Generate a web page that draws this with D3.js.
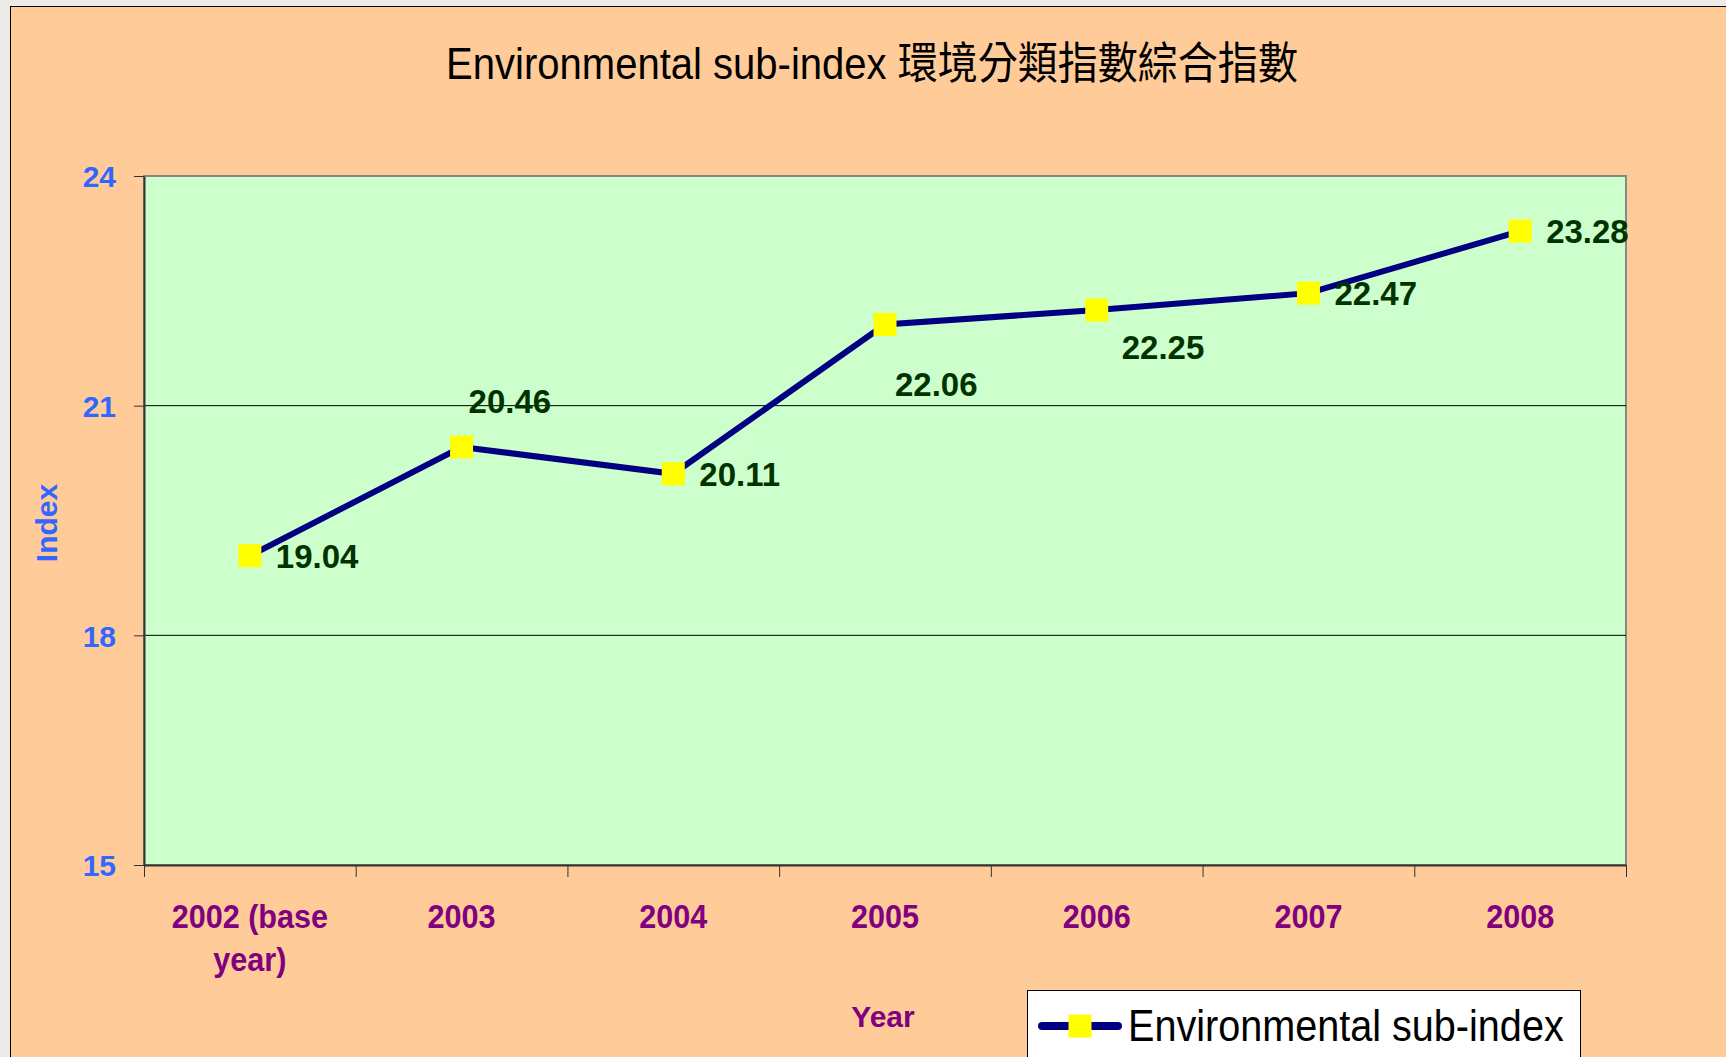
<!DOCTYPE html>
<html>
<head>
<meta charset="utf-8">
<script src="https://cdn.jsdelivr.net/npm/d3@7"></script>
<style>
  html, body { margin: 0; padding: 0; background: #ecebe8; }
  text { font-family: "Liberation Sans", Arial, "Noto Sans CJK TC", sans-serif; }
</style>
</head>
<body>
<div id="chart"></div>
<script>
// data
var years = ["2002", "2003", "2004", "2005", "2006", "2007", "2008"]
var yearLabels = [["2002 (base", "year)"], ["2003"], ["2004"], ["2005"], ["2006"], ["2007"], ["2008"]]
var envIndex = [19.04, 20.46, 20.11, 22.06, 22.25, 22.47, 23.28]
var yTicks = [15, 18, 21, 24]

// where each value label sits relative to its marker (px)
var labelOffset = [[26, 12], [7, -34], [26, 12], [10, 71], [25, 49], [26, 12], [26, 12]]

const W = 1726, H = 1057
const plot = { left: 144, right: 1626, top: 176, bottom: 865 }

var svg = d3.select("#chart")
    .append("svg")
    .attr("width", W)
    .attr("height", H)

// orange chart area
svg.append("rect")
    .attr("x", 10.5).attr("y", 6.5)
    .attr("width", W).attr("height", H)
    .attr("fill", "#ffcc99")
    .attr("stroke", "#000")
    .attr("stroke-width", 1)

// title
svg.append("text")
    .attr("transform", "translate(872,79) scale(0.91,1)")
    .attr("text-anchor", "middle")
    .attr("font-size", 44)
    .attr("fill", "#000")
    .text("Environmental sub-index 環境分類指數綜合指數")

const x = d3.scalePoint()
    .domain(years)
    .range([plot.left, plot.right])
    .padding(0.5)
const xEdge = d3.scaleLinear()
    .domain([0, years.length])
    .range([plot.left, plot.right])
const y = d3.scaleLinear()
    .domain([15, 24])
    .range([plot.bottom, plot.top])

// plot area
svg.append("rect")
    .attr("x", plot.left).attr("y", plot.top)
    .attr("width", plot.right - plot.left)
    .attr("height", plot.bottom - plot.top)
    .attr("fill", "#ccffcc")
    .attr("stroke", "#888")
    .attr("stroke-width", 2)

// grid lines
svg.append("g")
    .selectAll("line")
    .data([18, 21])
    .enter().append("line")
    .attr("x1", plot.left).attr("x2", plot.right)
    .attr("y1", d => y(d)).attr("y2", d => y(d))
    .attr("stroke", "#000")
    .attr("stroke-width", 1)

// y axis
var yAxis = svg.append("g")
    .attr("transform", `translate(${plot.left},0)`)
    .call(d3.axisLeft(y).tickValues(yTicks).tickSize(10).tickSizeOuter(0).tickFormat(d3.format("d")))
yAxis.select(".domain").attr("stroke", "#333").attr("stroke-width", 2)
yAxis.selectAll(".tick line").attr("stroke", "#333")
yAxis.selectAll(".tick text")
    .attr("x", -28)
    .attr("dy", "0.36em")
    .attr("font-size", 30)
    .attr("font-weight", "bold")
    .attr("fill", "#3366ff")

// x axis (ticks between categories)
var xAxis = svg.append("g")
    .attr("transform", `translate(0,${plot.bottom})`)
    .call(d3.axisBottom(xEdge).tickValues(d3.range(years.length + 1)).tickSize(12).tickSizeOuter(0).tickFormat(""))
xAxis.select(".domain").attr("stroke", "#333").attr("stroke-width", 2)
xAxis.selectAll(".tick line").attr("stroke", "#333")

svg.append("g")
    .selectAll("text")
    .data(years)
    .enter().append("text")
    .attr("transform", d => `translate(${x(d)},928) scale(0.9,1)`)
    .attr("text-anchor", "middle")
    .attr("font-size", 34)
    .attr("font-weight", "bold")
    .attr("fill", "#800080")
    .each(function (d, i) {
        d3.select(this).selectAll("tspan")
            .data(yearLabels[i])
            .enter().append("tspan")
            .attr("x", 0)
            .attr("dy", (t, j) => j === 0 ? 0 : 43)
            .text(t => t)
    })

// axis titles
svg.append("text")
    .attr("transform", "translate(57,523) rotate(-90)")
    .attr("text-anchor", "middle")
    .attr("font-size", 30)
    .attr("font-weight", "bold")
    .attr("fill", "#3366ff")
    .text("Index")

svg.append("text")
    .attr("x", 883).attr("y", 1027)
    .attr("text-anchor", "middle")
    .attr("font-size", 30)
    .attr("font-weight", "bold")
    .attr("fill", "#800080")
    .text("Year")

// series line
const line = d3.line()
    .x((d, i) => x(years[i]))
    .y(d => y(d))

svg.append("path")
    .datum(envIndex)
    .attr("fill", "none")
    .attr("stroke", "#000080")
    .attr("stroke-width", 6)
    .attr("d", line)

const ms = 23
svg.append("g")
    .selectAll("rect")
    .data(envIndex)
    .enter().append("rect")
    .attr("x", (d, i) => x(years[i]) - ms / 2)
    .attr("y", d => y(d) - ms / 2)
    .attr("width", ms).attr("height", ms)
    .attr("fill", "#ffff00")

svg.append("g")
    .selectAll("text")
    .data(envIndex)
    .enter().append("text")
    .attr("x", (d, i) => x(years[i]) + labelOffset[i][0])
    .attr("y", (d, i) => y(d) + labelOffset[i][1])
    .attr("font-size", 33)
    .attr("font-weight", "bold")
    .attr("fill", "#003300")
    .text(d => d3.format(".2f")(d))

// legend
svg.append("rect")
    .attr("x", 1027.5).attr("y", 990.5)
    .attr("width", 553).attr("height", 100)
    .attr("fill", "#fff")
    .attr("stroke", "#000")
    .attr("stroke-width", 1)
svg.append("line")
    .attr("x1", 1042).attr("x2", 1118)
    .attr("y1", 1026).attr("y2", 1026)
    .attr("stroke", "#000080")
    .attr("stroke-width", 8)
    .attr("stroke-linecap", "round")
svg.append("rect")
    .attr("x", 1080 - ms / 2).attr("y", 1026 - ms / 2)
    .attr("width", ms).attr("height", ms)
    .attr("fill", "#ffff00")
svg.append("text")
    .attr("transform", "translate(1128,1041) scale(0.9,1)")
    .attr("font-size", 44)
    .attr("fill", "#000")
    .text("Environmental sub-index")
</script>
</body>
</html>
